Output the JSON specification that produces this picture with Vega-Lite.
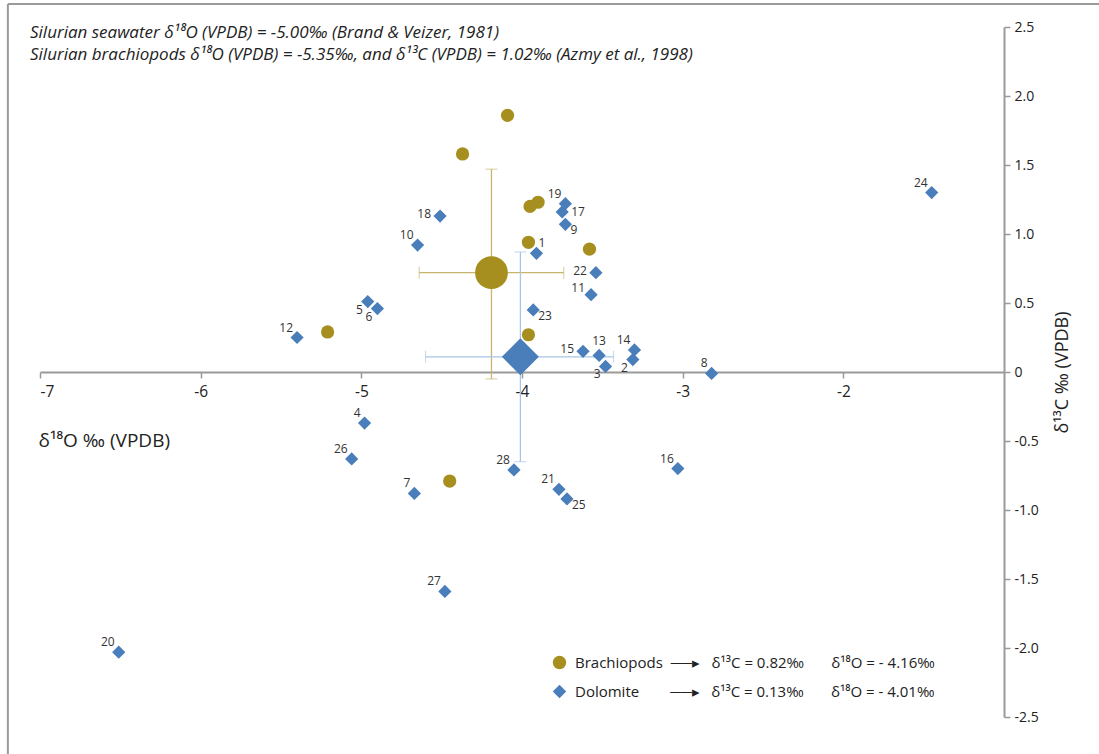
{
  "$schema": "https://vega.github.io/schema/vega-lite/v6.json",
  "width": 964,
  "height": 690,
  "autosize": {"type": "none"},
  "padding": {"left": 40, "top": 27, "right": 95, "bottom": 37},
  "background": "white",
  "config": {
    "view": {"stroke": null},
    "font": "Open Sans",
    "axis": {"grid": false}
  },
  "title": {
    "text": [
      "Silurian seawater δ¹⁸O (VPDB) = -5.00‰ (Brand & Veizer, 1981)",
      "Silurian brachiopods δ¹⁸O (VPDB) = -5.35‰, and δ¹³C (VPDB) = 1.02‰ (Azmy et al., 1998)"
    ],
    "anchor": "start",
    "frame": "group",
    "font": "Open Sans",
    "fontStyle": "italic",
    "fontWeight": "normal",
    "fontSize": 17,
    "color": "#222222",
    "lineHeight": 22,
    "offset": -61,
    "dx": -10
  },
  "datasets": {
    "frame": [{"note": "chart border"}],
    "pts": [
      {"group": "Brachiopods", "d18O": -4.09, "d13C": 1.86},
      {"group": "Brachiopods", "d18O": -4.37, "d13C": 1.58},
      {"group": "Brachiopods", "d18O": -3.9, "d13C": 1.23},
      {"group": "Brachiopods", "d18O": -3.95, "d13C": 1.2},
      {"group": "Brachiopods", "d18O": -3.96, "d13C": 0.94},
      {"group": "Brachiopods", "d18O": -3.58, "d13C": 0.89},
      {"group": "Brachiopods", "d18O": -5.21, "d13C": 0.29},
      {"group": "Brachiopods", "d18O": -3.96, "d13C": 0.27},
      {"group": "Brachiopods", "d18O": -4.45, "d13C": -0.79},
      {"group": "Dolomite", "id": "1", "d18O": -3.91, "d13C": 0.86},
      {"group": "Dolomite", "id": "2", "d18O": -3.31, "d13C": 0.09},
      {"group": "Dolomite", "id": "3", "d18O": -3.48, "d13C": 0.04},
      {"group": "Dolomite", "id": "4", "d18O": -4.98, "d13C": -0.37},
      {"group": "Dolomite", "id": "5", "d18O": -4.96, "d13C": 0.51},
      {"group": "Dolomite", "id": "6", "d18O": -4.9, "d13C": 0.46},
      {"group": "Dolomite", "id": "7", "d18O": -4.67, "d13C": -0.88},
      {"group": "Dolomite", "id": "8", "d18O": -2.82, "d13C": -0.01},
      {"group": "Dolomite", "id": "9", "d18O": -3.73, "d13C": 1.07},
      {"group": "Dolomite", "id": "10", "d18O": -4.65, "d13C": 0.92},
      {"group": "Dolomite", "id": "11", "d18O": -3.57, "d13C": 0.56},
      {"group": "Dolomite", "id": "12", "d18O": -5.4, "d13C": 0.25},
      {"group": "Dolomite", "id": "13", "d18O": -3.52, "d13C": 0.12},
      {"group": "Dolomite", "id": "14", "d18O": -3.3, "d13C": 0.16},
      {"group": "Dolomite", "id": "15", "d18O": -3.62, "d13C": 0.15},
      {"group": "Dolomite", "id": "16", "d18O": -3.03, "d13C": -0.7},
      {"group": "Dolomite", "id": "17", "d18O": -3.75, "d13C": 1.16},
      {"group": "Dolomite", "id": "18", "d18O": -4.51, "d13C": 1.13},
      {"group": "Dolomite", "id": "19", "d18O": -3.73, "d13C": 1.22},
      {"group": "Dolomite", "id": "20", "d18O": -6.51, "d13C": -2.03},
      {"group": "Dolomite", "id": "21", "d18O": -3.77, "d13C": -0.85},
      {"group": "Dolomite", "id": "22", "d18O": -3.54, "d13C": 0.72},
      {"group": "Dolomite", "id": "23", "d18O": -3.93, "d13C": 0.45},
      {"group": "Dolomite", "id": "24", "d18O": -1.45, "d13C": 1.3},
      {"group": "Dolomite", "id": "25", "d18O": -3.72, "d13C": -0.92},
      {"group": "Dolomite", "id": "26", "d18O": -5.06, "d13C": -0.63},
      {"group": "Dolomite", "id": "27", "d18O": -4.48, "d13C": -1.59},
      {"group": "Dolomite", "id": "28", "d18O": -4.05, "d13C": -0.71}
    ],
    "means": [
      {"group": "Brachiopods", "d18O": -4.19, "d13C": 0.72, "xlo": -4.64, "xhi": -3.74, "ylo": -0.05, "yhi": 1.47},
      {"group": "Dolomite", "d18O": -4.01, "d13C": 0.11, "xlo": -4.6, "xhi": -3.43, "ylo": -0.65, "yhi": 0.87}
    ]
  },
  "layer": [
    {
      "data": {"name": "frame"},
      "mark": {"type": "rule", "color": "#9a9a9a", "strokeWidth": 2, "clip": false},
      "encoding": {"x": {"datum": -7.2}, "y": {"datum": 2.667}, "y2": {"datum": -2.95}}
    },
    {
      "data": {"name": "frame"},
      "mark": {"type": "rule", "color": "#9a9a9a", "strokeWidth": 2, "clip": false},
      "encoding": {"y": {"datum": 2.667}, "x": {"datum": -7.2}, "x2": {"datum": -0.3}}
    },
    {
      "data": {"name": "means"},
      "transform": [{"filter": "datum.group == 'Brachiopods'"}],
      "mark": {"type": "errorbar", "color": "#c6b56a", "ticks": {"size": 12}, "rule": {"strokeWidth": 1.3}},
      "encoding": {
        "x": {"field": "xlo", "type": "quantitative", "title": "δ¹⁸O ‰ (VPDB)"},
        "x2": {"field": "xhi"},
        "y": {"field": "d13C", "type": "quantitative", "title": "δ¹³C ‰ (VPDB)"}
      }
    },
    {
      "data": {"name": "means"},
      "transform": [{"filter": "datum.group == 'Brachiopods'"}],
      "mark": {"type": "errorbar", "color": "#c6b56a", "ticks": {"size": 12}, "rule": {"strokeWidth": 1.3}},
      "encoding": {
        "y": {"field": "ylo", "type": "quantitative", "title": "δ¹³C ‰ (VPDB)"},
        "y2": {"field": "yhi"},
        "x": {"field": "d18O", "type": "quantitative", "title": "δ¹⁸O ‰ (VPDB)"}
      }
    },
    {
      "data": {"name": "means"},
      "transform": [{"filter": "datum.group == 'Dolomite'"}],
      "mark": {"type": "errorbar", "color": "#a7c6e6", "ticks": {"size": 12}, "rule": {"strokeWidth": 1.3}},
      "encoding": {
        "x": {"field": "xlo", "type": "quantitative", "title": "δ¹⁸O ‰ (VPDB)"},
        "x2": {"field": "xhi"},
        "y": {"field": "d13C", "type": "quantitative", "title": "δ¹³C ‰ (VPDB)"}
      }
    },
    {
      "data": {"name": "means"},
      "transform": [{"filter": "datum.group == 'Dolomite'"}],
      "mark": {"type": "errorbar", "color": "#a7c6e6", "ticks": {"size": 12}, "rule": {"strokeWidth": 1.3}},
      "encoding": {
        "y": {"field": "ylo", "type": "quantitative", "title": "δ¹³C ‰ (VPDB)"},
        "y2": {"field": "yhi"},
        "x": {"field": "d18O", "type": "quantitative", "title": "δ¹⁸O ‰ (VPDB)"}
      }
    },
    {
      "data": {"name": "pts"},
      "mark": {"type": "point", "filled": true, "opacity": 1, "size": 175},
      "encoding": {
        "x": {
          "field": "d18O", "type": "quantitative", "title": "δ¹⁸O ‰ (VPDB)",
          "scale": {"domain": [-7, -1], "nice": false, "zero": false},
          "axis": {
            "orient": "bottom",
            "offset": -345,
            "values": [-7, -6, -5, -4, -3, -2],
            "labelExpr": "replace(format(datum.value, 'd'), '−', '-')",
            "domainColor": "#9a9a9a",
            "domainWidth": 2,
            "tickColor": "#9a9a9a",
            "tickWidth": 1.5,
            "tickSize": 6,
            "labelFontSize": 15.5,
            "labelColor": "#222222",
            "labelPadding": 6,
            "titleFontSize": 19,
            "titleFontWeight": "normal",
            "titleColor": "#222222",
            "titleAnchor": "start",
            "titleAlign": "left",
            "titleBaseline": "middle",
            "titleX": -2,
            "titleY": 68
          }
        },
        "y": {
          "field": "d13C", "type": "quantitative", "title": "δ¹³C ‰ (VPDB)",
          "scale": {"domain": [-2.5, 2.5], "nice": false, "zero": false},
          "axis": {
            "orient": "right",
            "values": [-2.5, -2, -1.5, -1, -0.5, 0, 0.5, 1, 1.5, 2, 2.5],
            "labelExpr": "datum.value == 0 ? '0' : replace(format(datum.value, '.1f'), '−', '-')",
            "domainColor": "#9a9a9a",
            "domainWidth": 2,
            "tickColor": "#9a9a9a",
            "tickWidth": 1.5,
            "tickSize": 6,
            "labelFontSize": 14,
            "labelColor": "#222222",
            "labelPadding": 4,
            "titleFontSize": 18,
            "titleFontWeight": "normal",
            "titleColor": "#222222",
            "titleAngle": 270,
            "titlePadding": 33
          }
        },
        "color": {
          "field": "group", "type": "nominal",
          "scale": {"domain": ["Brachiopods", "Dolomite"], "range": ["#a68f1f", "#4a7ebb"]},
          "legend": {
            "title": null,
            "orient": "none",
            "legendX": 512,
            "legendY": 628,
            "padding": 0,
            "labelFontSize": 15,
            "labelColor": "#222222",
            "labelLimit": 600,
            "labelOffset": 8,
            "rowPadding": 13,
            "symbolSize": 180,
            "symbolStrokeWidth": 0,
            "labelExpr": "datum.label == 'Brachiopods' ? 'Brachiopods\u00a0\u00a0──▸\u00a0\u00a0\u00a0δ¹³C = 0.82‰\u00a0\u00a0\u00a0\u00a0\u00a0\u00a0\u00a0δ¹⁸O = - 4.16‰' : 'Dolomite\u00a0\u00a0\u00a0\u00a0\u00a0\u00a0\u00a0\u00a0──▸\u00a0\u00a0\u00a0δ¹³C = 0.13‰\u00a0\u00a0\u00a0\u00a0\u00a0\u00a0\u00a0δ¹⁸O = - 4.01‰'"
          }
        },
        "shape": {
          "field": "group", "type": "nominal",
          "scale": {"domain": ["Brachiopods", "Dolomite"], "range": ["circle", "diamond"]}
        }
      }
    },
    {
      "data": {"name": "means"},
      "transform": [{"filter": "datum.group == 'Brachiopods'"}],
      "mark": {"type": "point", "filled": true, "opacity": 1, "shape": "circle", "color": "#a68f1f", "size": 1075},
      "encoding": {
        "x": {"field": "d18O", "type": "quantitative", "title": "δ¹⁸O ‰ (VPDB)"},
        "y": {"field": "d13C", "type": "quantitative", "title": "δ¹³C ‰ (VPDB)"}
      }
    },
    {
      "data": {"name": "means"},
      "transform": [{"filter": "datum.group == 'Dolomite'"}],
      "mark": {"type": "point", "filled": true, "opacity": 1, "shape": "diamond", "color": "#4a7ebb", "size": 1370},
      "encoding": {
        "x": {"field": "d18O", "type": "quantitative", "title": "δ¹⁸O ‰ (VPDB)"},
        "y": {"field": "d13C", "type": "quantitative", "title": "δ¹³C ‰ (VPDB)"}
      }
    },
    {
      "data": {"name": "pts"},
      "transform": [{"filter": "indexof(['12','14','19','8','16','4','24','10','21','28','7','26','27','20'], datum.id) >= 0"}],
      "mark": {"type": "text", "align": "right", "baseline": "middle", "dx": -4, "dy": -10, "fontSize": 12, "color": "#333333"},
      "encoding": {"x": {"field": "d18O", "type": "quantitative", "title": "δ¹⁸O ‰ (VPDB)"}, "y": {"field": "d13C", "type": "quantitative", "title": "δ¹³C ‰ (VPDB)"}, "text": {"field": "id"}}
    },
    {
      "data": {"name": "pts"},
      "transform": [{"filter": "datum.id == '11'"}],
      "mark": {"type": "text", "align": "right", "baseline": "middle", "dx": -6, "dy": -7, "fontSize": 12, "color": "#333333"},
      "encoding": {"x": {"field": "d18O", "type": "quantitative", "title": "δ¹⁸O ‰ (VPDB)"}, "y": {"field": "d13C", "type": "quantitative", "title": "δ¹³C ‰ (VPDB)"}, "text": {"field": "id"}}
    },
    {
      "data": {"name": "pts"},
      "transform": [{"filter": "indexof(['22','15','18'], datum.id) >= 0"}],
      "mark": {"type": "text", "align": "right", "baseline": "middle", "dx": -9, "dy": -2, "fontSize": 12, "color": "#333333"},
      "encoding": {"x": {"field": "d18O", "type": "quantitative", "title": "δ¹⁸O ‰ (VPDB)"}, "y": {"field": "d13C", "type": "quantitative", "title": "δ¹³C ‰ (VPDB)"}, "text": {"field": "id"}}
    },
    {
      "data": {"name": "pts"},
      "transform": [{"filter": "datum.id == '13'"}],
      "mark": {"type": "text", "align": "center", "baseline": "middle", "dx": 0, "dy": -14, "fontSize": 12, "color": "#333333"},
      "encoding": {"x": {"field": "d18O", "type": "quantitative", "title": "δ¹⁸O ‰ (VPDB)"}, "y": {"field": "d13C", "type": "quantitative", "title": "δ¹³C ‰ (VPDB)"}, "text": {"field": "id"}}
    },
    {
      "data": {"name": "pts"},
      "transform": [{"filter": "datum.id == '17'"}],
      "mark": {"type": "text", "align": "left", "baseline": "middle", "dx": 9, "dy": 0, "fontSize": 12, "color": "#333333"},
      "encoding": {"x": {"field": "d18O", "type": "quantitative", "title": "δ¹⁸O ‰ (VPDB)"}, "y": {"field": "d13C", "type": "quantitative", "title": "δ¹³C ‰ (VPDB)"}, "text": {"field": "id"}}
    },
    {
      "data": {"name": "pts"},
      "transform": [{"filter": "datum.id == '1'"}],
      "mark": {"type": "text", "align": "left", "baseline": "middle", "dx": 2, "dy": -10, "fontSize": 12, "color": "#333333"},
      "encoding": {"x": {"field": "d18O", "type": "quantitative", "title": "δ¹⁸O ‰ (VPDB)"}, "y": {"field": "d13C", "type": "quantitative", "title": "δ¹³C ‰ (VPDB)"}, "text": {"field": "id"}}
    },
    {
      "data": {"name": "pts"},
      "transform": [{"filter": "indexof(['9','23','25'], datum.id) >= 0"}],
      "mark": {"type": "text", "align": "left", "baseline": "middle", "dx": 5, "dy": 6, "fontSize": 12, "color": "#333333"},
      "encoding": {"x": {"field": "d18O", "type": "quantitative", "title": "δ¹⁸O ‰ (VPDB)"}, "y": {"field": "d13C", "type": "quantitative", "title": "δ¹³C ‰ (VPDB)"}, "text": {"field": "id"}}
    },
    {
      "data": {"name": "pts"},
      "transform": [{"filter": "indexof(['2','3','5','6'], datum.id) >= 0"}],
      "mark": {"type": "text", "align": "right", "baseline": "middle", "dx": -5, "dy": 8, "fontSize": 12, "color": "#333333"},
      "encoding": {"x": {"field": "d18O", "type": "quantitative", "title": "δ¹⁸O ‰ (VPDB)"}, "y": {"field": "d13C", "type": "quantitative", "title": "δ¹³C ‰ (VPDB)"}, "text": {"field": "id"}}
    }
  ]
}
